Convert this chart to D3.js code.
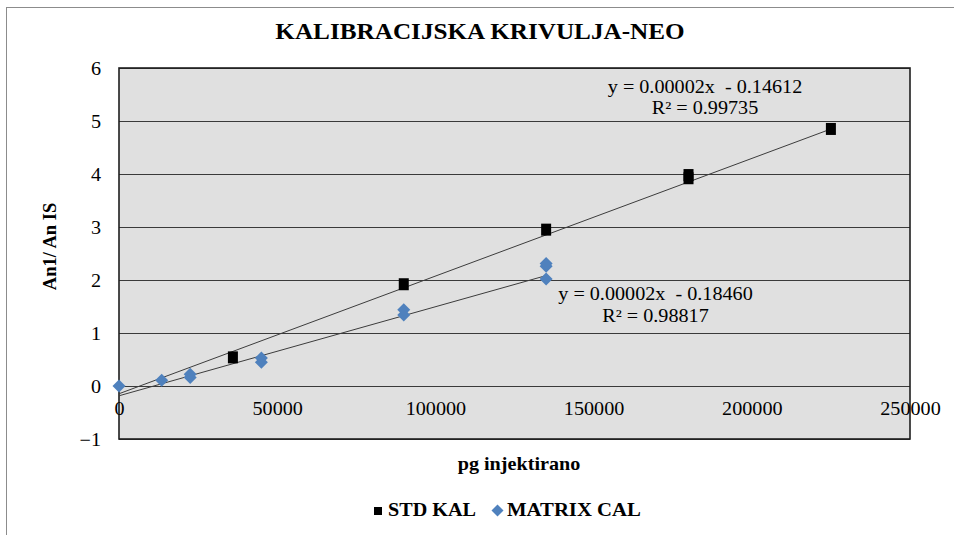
<!DOCTYPE html>
<html>
<head>
<meta charset="utf-8">
<script src="https://cdn.jsdelivr.net/npm/d3@7"></script>
<style>
  html, body { margin: 0; padding: 0; background: #ffffff; }
  svg { display: block; }
</style>
</head>
<body>
<svg id="chart" width="954" height="535"></svg>
<script>
// ---------- data ----------
const chartTitle = "KALIBRACIJSKA KRIVULJA-NEO";
const xTitle = "pg injektirano";
const yTitle = "An1/ An IS";
const seriesNames = ["STD KAL", "MATRIX CAL"];

const stdX = [36000, 90000, 135000, 180000, 180000, 225000];
const stdY = [0.54, 1.92, 2.95, 3.98, 3.92, 4.85];

const matrixX = [0, 13500, 22500, 22500, 45000, 45000, 90000, 90000, 135000, 135000, 135000];
const matrixY = [0, 0.11, 0.16, 0.22, 0.45, 0.53, 1.34, 1.44, 2.02, 2.26, 2.31];

// linear trendlines (Excel fits)
const fitSlopes = [0.0000222, 0.0000168];
const fitIntercepts = [-0.14612, -0.18460];
const fitXMin = [0, 0];
const fitXMax = [225000, 135000];
const fitEquations = ["y = 0.00002x\u00A0 - 0.14612", "y = 0.00002x\u00A0 - 0.18460"];
const fitR2 = ["R\u00B2 = 0.99735", "R\u00B2 = 0.98817"];

const xTicks = [0, 50000, 100000, 150000, 200000, 250000];
const yTicks = [-1, 0, 1, 2, 3, 4, 5, 6];

// ---------- layout ----------
const FONT = "Liberation Serif";
const SX = 1.12;            // horizontal stretch of the reference's text
const svg = d3.select("#chart");
const plot = { left: 119, right: 910, top: 68, bottom: 439 };
const x = d3.scaleLinear().domain([0, 250000]).range([plot.left, plot.right]);
const y = d3.scaleLinear().domain([-1, 6]).range([plot.bottom, plot.top]);
const blue = "#4f81bd";

function label(px, py, txt, size, bold, anchor, sx) {
  const g = svg.append("g").attr("transform", `translate(${px},${py}) scale(${sx || SX},1)`);
  g.append("text").attr("x", 0).attr("y", 0)
    .attr("text-anchor", anchor || "middle")
    .attr("font-family", FONT).attr("font-size", size)
    .attr("font-weight", bold ? "bold" : "normal")
    .attr("fill", "#000").text(txt);
  return g;
}

// outer chart border (only left/top visible)
svg.append("rect")
  .attr("x", 6.5).attr("y", 7.5).attr("width", 1000).attr("height", 1000)
  .attr("fill", "none").attr("stroke", "#8c8c8c").attr("stroke-width", 1);

// plot background
svg.append("rect")
  .attr("x", plot.left).attr("y", plot.top)
  .attr("width", plot.right - plot.left).attr("height", plot.bottom - plot.top)
  .attr("fill", "#e0e0e0");

// gridlines
svg.append("g").selectAll("line").data(yTicks).join("line")
  .attr("x1", plot.left).attr("x2", plot.right)
  .attr("y1", d => Math.round(y(d)) + 0.5).attr("y2", d => Math.round(y(d)) + 0.5)
  .attr("stroke", "#3a3a3a").attr("stroke-width", 1);

// plot border
svg.append("rect")
  .attr("x", plot.left).attr("y", plot.top)
  .attr("width", plot.right - plot.left).attr("height", plot.bottom - plot.top)
  .attr("fill", "none").attr("stroke", "#1e1e1e").attr("stroke-width", 1.6);

// y axis
const yAxis = svg.append("g")
  .attr("transform", `translate(${plot.left},0)`)
  .attr("font-family", FONT)
  .call(d3.axisLeft(y).tickValues(yTicks).tickSize(0).tickPadding(16).tickFormat(d3.format("d")));
yAxis.attr("font-family", FONT).attr("font-size", 18);
yAxis.select(".domain").remove();
yAxis.selectAll("text").attr("dy", "0.34em").attr("fill", "#000").attr("transform", `scale(${SX},1)`);

// x axis (labels next to y = 0)
const xAxis = svg.append("g")
  .attr("transform", `translate(0,${y(0)})`)
  .call(d3.axisBottom(x).tickValues(xTicks).tickSize(0).tickPadding(0).tickFormat(d3.format("d")));
xAxis.attr("font-family", FONT).attr("font-size", 18);
xAxis.select(".domain").remove();
xAxis.selectAll("text").attr("y", 29).attr("dy", 0).attr("fill", "#000").attr("transform", `scale(${SX},1)`);

// trendlines
const fitData = fitSlopes.map((s, i) => ({ s, b: fitIntercepts[i], x0: fitXMin[i], x1: fitXMax[i] }));
svg.append("g").selectAll("line").data(fitData).join("line")
  .attr("x1", d => x(d.x0)).attr("y1", d => y(d.s * d.x0 + d.b))
  .attr("x2", d => x(d.x1)).attr("y2", d => y(d.s * d.x1 + d.b))
  .attr("stroke", "#3c3c3c").attr("stroke-width", 1);

// STD KAL markers (black squares)
const stdPts = stdX.map((v, i) => [v, stdY[i]]);
svg.append("g").selectAll("rect").data(stdPts).join("rect")
  .attr("x", d => x(d[0]) - 5).attr("y", d => y(d[1]) - 6)
  .attr("width", 10).attr("height", 12)
  .attr("fill", "#000");

// MATRIX CAL markers (blue diamonds)
const diamond = (cx, cy, rx, ry) => `M${cx},${cy - ry}L${cx + rx},${cy}L${cx},${cy + ry}L${cx - rx},${cy}Z`;
const matPts = matrixX.map((v, i) => [v, matrixY[i]]);
svg.append("g").selectAll("path").data(matPts).join("path")
  .attr("d", d => diamond(x(d[0]), y(d[1]), 6.5, 6.5))
  .attr("fill", blue);

// equation labels
const eqPos = [{ cx: 705, y1: 92.5, y2: 113.5 }, { cx: 655.5, y1: 300, y2: 321.5 }];
eqPos.forEach((p, i) => {
  label(p.cx, p.y1, fitEquations[i], 18, false);
  label(p.cx, p.y2, fitR2[i], 18, false);
});

// title
label(480, 38.5, chartTitle, 22.5, true);

// axis titles
label(519, 470, xTitle, 18, true);
svg.append("text")
  .attr("transform", "translate(56,246.5) rotate(-90)")
  .attr("text-anchor", "middle").attr("fill", "#000")
  .attr("font-family", FONT)
  .attr("font-size", 18.5).attr("font-weight", "bold").text(yTitle);

// legend
svg.append("rect").attr("x", 374).attr("y", 507).attr("width", 8).attr("height", 8).attr("fill", "#000");
label(388, 516, seriesNames[0], 18, true, "start");
svg.append("path").attr("d", diamond(497.5, 510.5, 6, 6)).attr("fill", blue);
label(507, 516, seriesNames[1], 18, true, "start", SX * 1.03);
</script>
</body>
</html>
